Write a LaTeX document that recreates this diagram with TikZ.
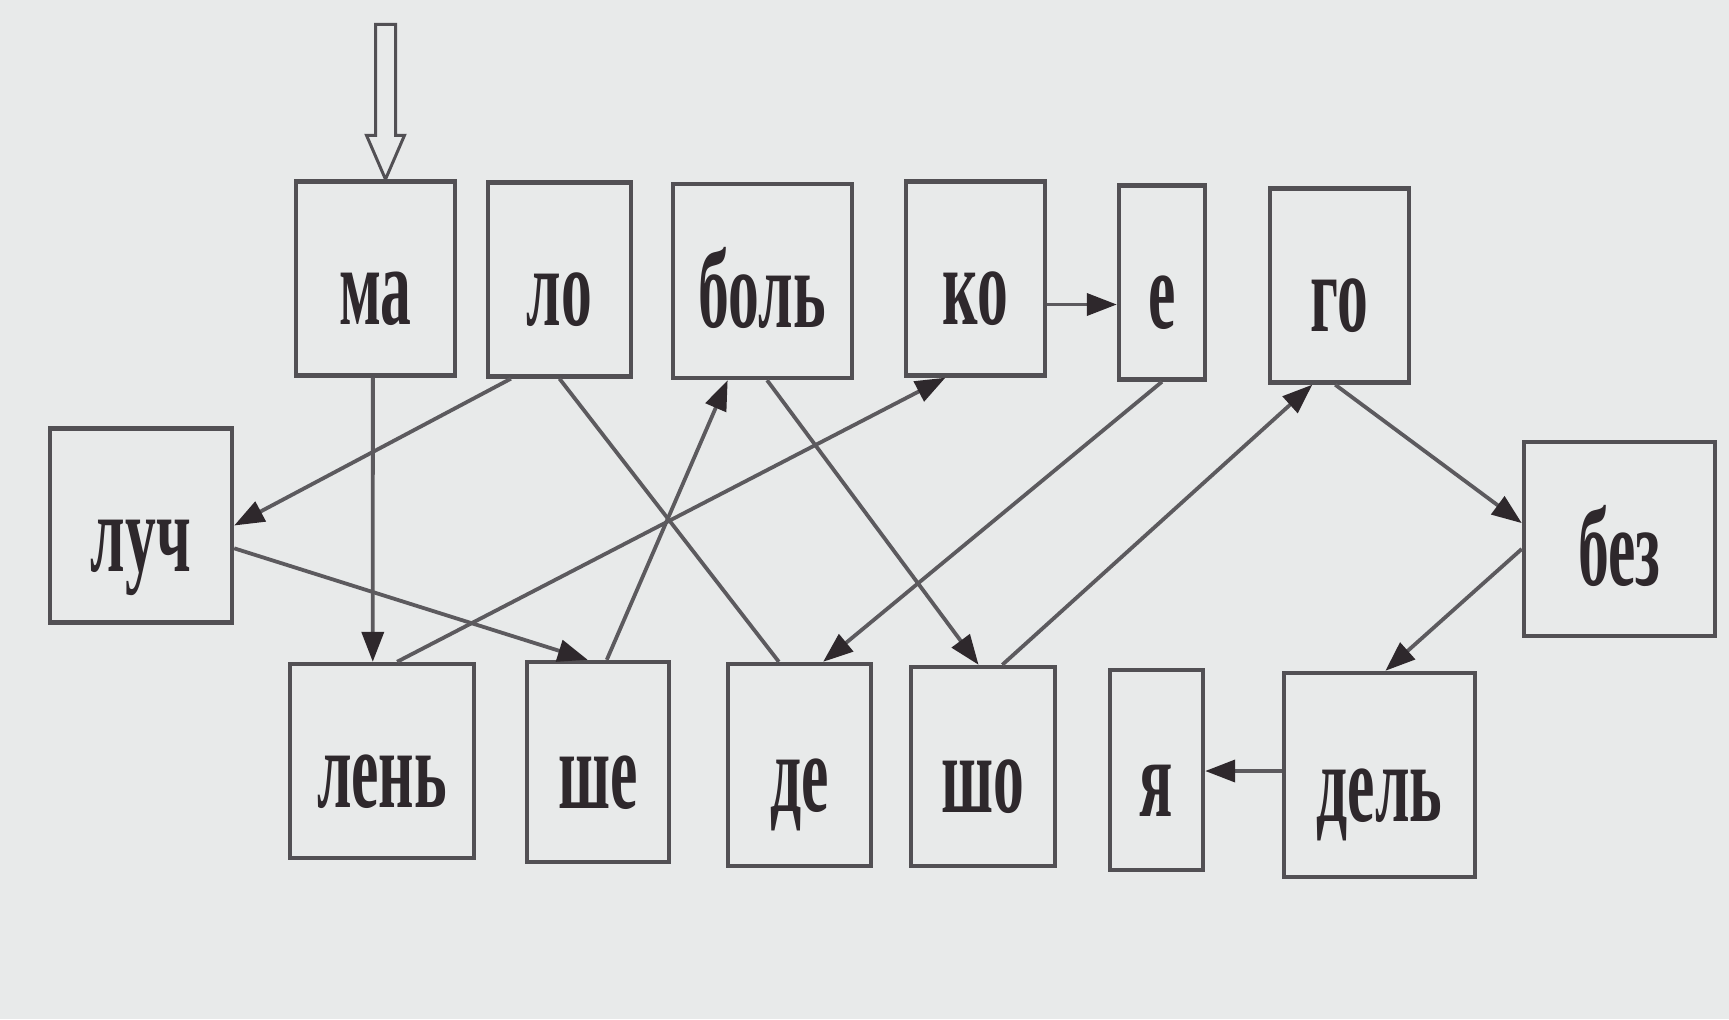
\documentclass[tikz,border=0pt]{standalone}
\usepackage{fontspec}
\newfontfamily\sylfont[FakeStretch=0.55]{Liberation Serif}
\usetikzlibrary{arrows.meta,calc}

\definecolor{paper}{RGB}{232,234,234}
\definecolor{boxline}{RGB}{82,80,84}
\definecolor{linkline}{RGB}{92,90,94}
\definecolor{ink}{RGB}{46,40,44}

\begin{document}
\begin{tikzpicture}[
      x=0.5pt, y=-0.5pt,
      syllable/.style={draw=boxline, line width=2.2pt, inner sep=0pt,
        minimum height=97pt, text height=46pt, text depth=0pt, text=ink,
        font=\sylfont\bfseries\fontsize{56}{60}\selectfont},
      link/.style={draw=linkline, line width=1.9pt,
        -{Triangle[length=15pt,width=11pt,fill=ink,color=ink]}},
      plain/.style={draw=linkline, line width=1.9pt},
  ]
    \fill[paper] (0,0) rectangle (1729,1019);

    % top row
    \node[syllable, minimum width=79.5pt] (ma)   at (375.5,278.5) {ма};
    \node[syllable, minimum width=71.5pt] (lo)   at (559.5,279.5) {ло};
    \node[syllable, minimum width=89.5pt] (bol)  at (762.5,281)   {боль};
    \node[syllable, minimum width=69.5pt] (ko)   at (975.5,278.5) {ко};
    \node[syllable, minimum width=43pt]   (e)    at (1162,282.5)  {е};
    \node[syllable, minimum width=69.5pt] (go)   at (1339.5,285.5) {го};
    % middle row
    \node[syllable, minimum width=91pt]   (luch) at (141,525.5)   {луч};
    \node[syllable, minimum width=95.5pt] (bez)  at (1619.5,539)  {без};
    % bottom row
    \node[syllable, minimum width=92pt]   (len)  at (382,761)     {лень};
    \node[syllable, minimum width=71pt, minimum height=100pt] (she) at (598,762) {ше};
    \node[syllable, minimum width=71.5pt, minimum height=101pt] (de) at (799.5,765) {де};
    \node[syllable, minimum width=72pt, minimum height=99.5pt] (sho) at (983,766.5) {шо};
    \node[syllable, minimum width=46.5pt, minimum height=100pt] (ya) at (1156.5,770) {я};
    \node[syllable, minimum width=95.5pt, minimum height=102pt] (del) at (1379.5,775) {дель};

    % entry arrow
    \coordinate (entry) at ([xshift=5pt]ma.north);
    \draw[draw=boxline, line width=1.5pt, fill=paper, line join=miter]
      (entry) -- ++(-19,-44) -- ++(9,0) -- ++(0,-111) -- ++(20,0)
      -- ++(0,111) -- ++(9,0) -- cycle;

    % reading path
    \draw[link] ($(ma.south west)!.484!(ma.south east)$) -- ($(len.north west)!.451!(len.north east)$);
    \draw[link] ($(len.north west)!.58!(len.north east)$) -- ($(ko.south west)!.29!(ko.south east)$);
    \draw[link] ([yshift=-13pt]ko.east) -- ([yshift=-13pt]ko.east -| e.west);
    \draw[link] (e.south) -- ($(de.north west)!.66!(de.north east)$);
    \draw[plain] ($(de.north west)!.36!(de.north east)$) -- (lo.south);
    \draw[link] ($(lo.south west)!.17!(lo.south east)$) -- (luch.east);
    \draw[link] ($(luch.north east)!.615!(luch.south east)$) -- ($(she.north west)!.43!(she.north east)$);
    \draw[link] ($(she.north west)!.56!(she.north east)$) -- ($(bol.south west)!.31!(bol.south east)$);
    \draw[link] ($(bol.south west)!.525!(bol.south east)$) -- ($(sho.north west)!.47!(sho.north east)$);
    \draw[link] ($(sho.north west)!.63!(sho.north east)$) -- ($(go.south west)!.31!(go.south east)$);
    \draw[link] ($(go.south west)!.47!(go.south east)$) -- ($(bez.north west)!.42!(bez.south west)$);
    \draw[link] ($(bez.north west)!.55!(bez.south west)$) -- ($(del.north west)!.53!(del.north east)$);
    \draw[link] ([yshift=2pt]del.west) -- ([yshift=2pt]del.west -| ya.east);
  \end{tikzpicture}
\end{document}
